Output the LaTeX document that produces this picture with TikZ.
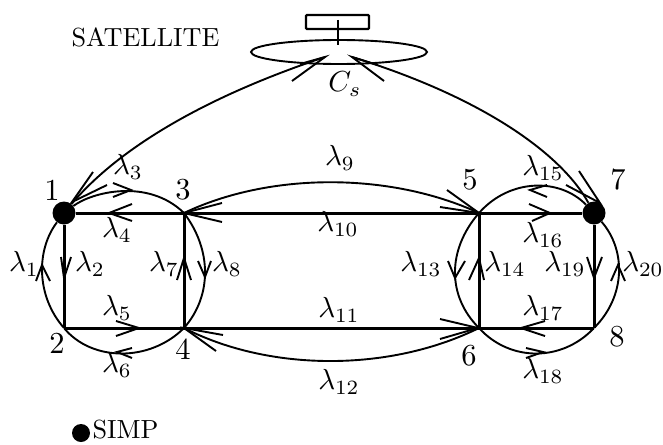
\documentclass[tikz,border=0pt]{standalone}
\usetikzlibrary{calc,shapes.geometric}
\tikzset{
  thick line/.style={draw=black,line width=3pt},
  thin line/.style={draw=black,line width=1.9pt},
  barb/.style={draw=black,line width=1.9pt,line join=miter},
  dotnode/.style={circle,fill=black,inner sep=0pt,minimum size=23pt},
  junction/.style={circle,inner sep=0pt,minimum size=0pt},
  num/.style={scale=3.05,inner sep=0pt},
  lam/.style={scale=2.9,inner sep=0pt},
  txt/.style={scale=2.62,inner sep=0pt}
}
\newcommand{\headbarbs}[3]{\draw[barb] #2 -- #1 -- #3;}
\begin{document}
\begin{tikzpicture}[x=1pt,y=-1pt]
\useasboundingbox (0,0) rectangle (663,444);
% nodes
\node[dotnode] (n1) at (64,213) {};
\node[dotnode] (n7) at (594,213) {};
\node[junction] (n2) at (64,328) {};
\node[junction] (n3) at (184,213) {};
\node[junction] (n4) at (184,328) {};
\node[junction] (n5) at (479,213) {};
\node[junction] (n6) at (479,328) {};
\node[junction] (n8) at (594,328) {};
\node[circle,fill=black,inner sep=0pt,minimum size=18pt] (simpdot) at (81,433) {};
% satellite
\node[draw=black,line width=1.9pt,ellipse,minimum width=176pt,minimum height=24pt,inner sep=0pt] (sat) at (339,52) {};
\node[draw=black,line width=2.4pt,rounded corners=1pt,minimum width=63pt,minimum height=14pt,inner sep=0pt] (box) at (337.5,22) {};
\coordinate (stemtop) at (338,20);
\coordinate (stembot) at (338,45);
\draw[line width=2.6pt] (stemtop) -- (stembot);
\coordinate (sl) at (325,57);
\coordinate (sr) at (352,57);
% straight links
\draw[thick line] (n1) -- (n3) -- (n5) -- (n7);
\draw[thick line] (n2) -- (n4) -- (n6) -- (n8);
\draw[thick line] (n1) -- (n2);
\draw[thick line] (n3) -- (n4);
\draw[thick line] (n5) -- (n6);
\draw[thick line] (n7) -- (n8);
% curved links
\draw[thin line] (n1) .. controls (92,192) and (148,178) .. (n3);
\draw[thin line] (n1) .. controls (36,250) and (36,296) .. (n2);
\draw[thin line] (n3) .. controls (212,250) and (212,296) .. (n4);
\draw[thin line] (n2) .. controls (92,362) and (150,362) .. (n4);
\draw[thin line] (n5) .. controls (510,178) and (560,178) .. (n7);
\draw[thin line] (n5) .. controls (447,250) and (447,296) .. (n6);
\draw[thin line] (n7) .. controls (626,250) and (626,296) .. (n8);
\draw[thin line] (n6) .. controls (510,362) and (562,362) .. (n8);
\draw[thin line] (n3) .. controls (270,172) and (390,172) .. (n5);
\draw[thin line] (n4) .. controls (270,372) and (390,372) .. (n6);
\draw[thin line] (n1) .. controls (112,156) and (190,102) .. (sl);
\draw[thin line] (n7) .. controls (562,155) and (485,98) .. (sr);
% arrow heads
\headbarbs{(42,265)}{(36,281)}{(50,281)}
\headbarbs{(64,278)}{(61,257)}{(71,257)}
\headbarbs{(184,258)}{(177,280)}{(191,280)}
\headbarbs{(205,277)}{(198,261)}{(211,261)}
\headbarbs{(131,190)}{(113,183)}{(113,197)}
\headbarbs{(109,213)}{(132,204)}{(132,221)}
\headbarbs{(139,328)}{(116,321)}{(116,336)}
\headbarbs{(117,352)}{(132,348)}{(132,358)}
\headbarbs{(184,213)}{(222,203)}{(222,222)}
\headbarbs{(184,328)}{(223,335)}{(216,351)}
\headbarbs{(479,213)}{(447,190)}{(440,207)}
\headbarbs{(478,328)}{(440,319)}{(440,339)}
\headbarbs{(455,278)}{(448,261)}{(465,261)}
\headbarbs{(479,258)}{(469,280)}{(484,280)}
\headbarbs{(530,190)}{(547,185)}{(547,197)}
\headbarbs{(550,213)}{(529,204)}{(532,221)}
\headbarbs{(521,328)}{(545,321)}{(545,336)}
\headbarbs{(543,352)}{(526,348)}{(526,358)}
\headbarbs{(594,278)}{(587,257)}{(602,257)}
\headbarbs{(618,265)}{(611,281)}{(625,281)}
\headbarbs{(72,202)}{(93,172)}{(107,185)}
\headbarbs{(600,203)}{(579,171)}{(566,185)}
\headbarbs{(sl)}{(292,81)}{(300,64)}
\headbarbs{(sr)}{(384,81)}{(378,65)}
% numbers
\node[num] (t1) at (52,190) {1};
\node[num] (t3) at (183,190) {3};
\node[num] (t5) at (470,180) {5};
\node[num] (t7) at (618,180) {7};
\node[num] (t2) at (57,343) {2};
\node[num] (t4) at (183,349) {4};
\node[num] (t6) at (469,356) {6};
\node[num] (t8) at (617,337) {8};
% lambdas
\node[lam] (l1) at (24,264) {$\lambda_{1}$};
\node[lam] (l2) at (90,264) {$\lambda_{2}$};
\node[lam] (l3) at (128,167) {$\lambda_{3}$};
\node[lam] (l4) at (117,230) {$\lambda_{4}$};
\node[lam] (l5) at (117,308) {$\lambda_{5}$};
\node[lam] (l6) at (117,365) {$\lambda_{6}$};
\node[lam] (l7) at (164,264) {$\lambda_{7}$};
\node[lam] (l8) at (227,264) {$\lambda_{8}$};
\node[lam] (l9) at (340,158) {$\lambda_{9}$};
\node[lam] (l10) at (338,224) {$\lambda_{10}$};
\node[lam] (l11) at (339,310) {$\lambda_{11}$};
\node[lam] (l12) at (339,382) {$\lambda_{12}$};
\node[lam] (l13) at (421,264) {$\lambda_{13}$};
\node[lam] (l14) at (505,264) {$\lambda_{14}$};
\node[lam] (l15) at (543,168) {$\lambda_{15}$};
\node[lam] (l16) at (543,235) {$\lambda_{16}$};
\node[lam] (l17) at (543,308) {$\lambda_{17}$};
\node[lam] (l18) at (543,371) {$\lambda_{18}$};
\node[lam] (l19) at (565,264) {$\lambda_{19}$};
\node[lam] (l20) at (643,264) {$\lambda_{20}$};
% text
\node[txt] (satlabel) at (145.5,37) {SATELLITE};
\node[txt,anchor=west] (simplabel) at (92,430) {SIMP};
\node[lam] (cs) at (345,84) {$C_{s}$};
\end{tikzpicture}
\end{document}
